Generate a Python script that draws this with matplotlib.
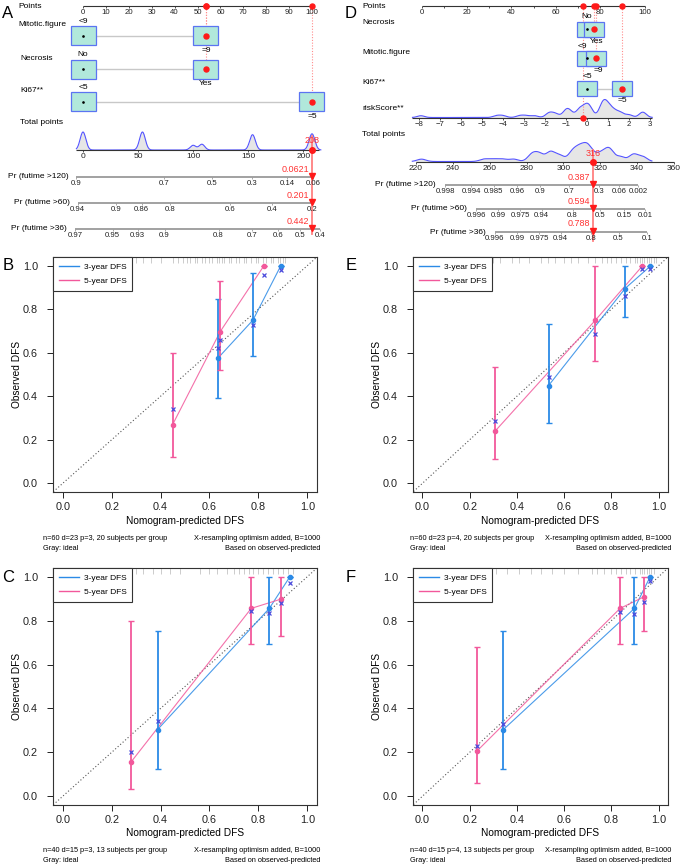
import numpy as np
import matplotlib
matplotlib.use('Agg')
import matplotlib.pyplot as plt
from matplotlib.patches import Rectangle
from matplotlib.lines import Line2D

plt.rcParams['font.family'] = ['Liberation Sans', 'DejaVu Sans']

# ---------------- data: nomogram A ----------------
a_items = ['Mitotic.figure', 'Necrosis', 'Ki67**']
a_levels = [['<9', '=9'], ['No', 'Yes'], ['<5', '=5']]
a_level_points = [[0, 53.7], [0, 53.7], [0, 100]]
a_selected = [1, 1, 1]
a_total_ticks = [0, 50, 100, 150, 200]
a_total_max = 208
a_total_pred = 208
a_dens_totals = [0, 54, 100, 108, 154, 208]
a_dens_weights = [10, 10, 2.6, 3.2, 8.5, 9]
a_times = ['120', '60', '36']
a_prob_ticks = [[0.9, 0.7, 0.5, 0.3, 0.14, 0.06],
                [0.94, 0.9, 0.86, 0.8, 0.6, 0.4, 0.2],
                [0.97, 0.95, 0.93, 0.9, 0.8, 0.7, 0.6, 0.5, 0.4]]
a_prob_pred = [0.0621, 0.201, 0.442]
a_slope = 0.01529  # cloglog change per total point

# ---------------- data: nomogram D ----------------
d_items = ['Necrosis', 'Mitotic.figure', 'Ki67**']
d_levels = [['No', 'Yes'], ['<9', '=9'], ['<5', '=5']]
d_level_points = [[73.8, 77.1], [74.1, 77.9], [74.1, 89.5]]
d_selected = [1, 1, 1]
d_risk_ticks = list(range(-8, 4))
d_risk_pred = -0.18
d_risk_pts0 = 74.0      # points at riskScore = 0
d_risk_pts_unit = 9.43  # points per riskScore unit
d_risk_samples = [-7.9, -4.3, -4.0, -3.2, -2.9, -2.5, -1.8, -1.5, -1.0, -0.8, -0.35,
                  -0.05, 0.15, 0.7, 0.85, 1.05, 1.3, 1.6, 2.0, 2.65]
d_risk_weights = [1, 1, 1, 1, 1, 1, 2.5, 2, 3.5, 2.5, 4.5, 5, 4, 4.5, 5, 4, 3, 2.5, 1.5, 3]
d_total_ticks = list(range(220, 361, 20))
d_total_pred = 316
d_total_samples = [223, 257, 262, 267, 273, 283, 287, 293, 298, 305, 309, 313,
                   317, 321, 325, 331, 338, 343]
d_total_weights = [1, 1, 1, 1, 1, 3, 3, 4, 2.5, 4, 5, 6, 2, 3, 5, 2, 3, 2]
d_times = ['120', '60', '36']
d_prob_ticks = [[0.998, 0.994, 0.985, 0.96, 0.9, 0.7, 0.3, 0.06, 0.002],
                [0.996, 0.99, 0.975, 0.94, 0.8, 0.5, 0.15, 0.01],
                [0.996, 0.99, 0.975, 0.94, 0.8, 0.5, 0.1]]
d_prob_pred = [0.387, 0.594, 0.788]
d_slope = 0.0768

# ---------------- data: calibration curves ----------------
# predicted, observed, lower, upper, bias-corrected
b_blue = [[0.637, 0.778, 0.892], [0.578, 0.750, 1.0], [0.393, 0.586, 1.0], [0.849, 0.967, 1.0], [0.624, 0.726, 0.982]]
b_pink = [[0.449, 0.644, 0.823], [0.269, 0.697, 1.0], [0.122, 0.522, 1.0], [0.598, 0.932, 1.0], [0.342, 0.659, 0.959]]
e_blue = [[0.534, 0.858, 0.964], [0.449, 0.895, 0.997], [0.277, 0.766, 0.997], [0.731, 1.0, 0.997], [0.487, 0.860, 0.986]]
e_pink = [[0.308, 0.732, 0.930], [0.240, 0.749, 0.997], [0.110, 0.560, 0.997], [0.533, 1.0, 0.997], [0.285, 0.685, 0.985]]
c_blue = [[0.388, 0.845, 0.929], [0.304, 0.856, 1.0], [0.125, 0.692, 1.0], [0.754, 1.0, 1.0], [0.342, 0.833, 0.970]]
c_pink = [[0.280, 0.771, 0.892], [0.157, 0.856, 0.898], [0.032, 0.692, 0.731], [0.798, 1.0, 1.0], [0.202, 0.843, 0.881]]
f_blue = [[0.343, 0.898, 0.963], [0.304, 0.856, 0.997], [0.125, 0.692, 0.997], [0.755, 1.0, 0.997], [0.327, 0.830, 0.980]]
f_pink = [[0.230, 0.837, 0.939], [0.205, 0.856, 0.909], [0.062, 0.692, 0.752], [0.679, 1.0, 1.0], [0.229, 0.840, 0.886]]

b_rug = [0.18, 0.20, 0.23, 0.30, 0.33, 0.36, 0.40, 0.45, 0.47, 0.49, 0.51, 0.52, 0.54, 0.55,
         0.57, 0.58, 0.60, 0.61, 0.63, 0.64, 0.65, 0.66, 0.68, 0.69, 0.71, 0.72, 0.74, 0.75,
         0.77, 0.79, 0.80, 0.82, 0.83, 0.85, 0.86, 0.88, 0.89, 0.90, 0.91]
e_rug = [0.04, 0.08, 0.12, 0.16, 0.20, 0.22, 0.27, 0.30, 0.33, 0.38, 0.41, 0.45, 0.50, 0.53,
         0.56, 0.60, 0.63, 0.66, 0.70, 0.73, 0.76, 0.78, 0.80, 0.82, 0.84, 0.86, 0.88, 0.90,
         0.91, 0.92, 0.93, 0.94, 0.95, 0.96, 0.97, 0.98, 0.99]
c_rug = [0.01, 0.05, 0.08, 0.12, 0.17, 0.21, 0.26, 0.30, 0.33, 0.37, 0.40, 0.44, 0.48, 0.56,
         0.60, 0.63, 0.67, 0.70, 0.72, 0.74, 0.76, 0.78, 0.80, 0.82, 0.84, 0.86, 0.88, 0.90,
         0.92, 0.94]
f_rug = [0.0, 0.03, 0.06, 0.10, 0.14, 0.18, 0.22, 0.26, 0.31, 0.36, 0.41, 0.46, 0.50, 0.55,
         0.60, 0.66, 0.72, 0.74, 0.77, 0.80, 0.82, 0.84, 0.86, 0.88, 0.90, 0.92, 0.93, 0.94,
         0.95, 0.96, 0.97, 0.98]

footers = {
    'B': ('n=60 d=23 p=3, 20 subjects per group', 'X-resampling optimism added, B=1000'),
    'E': ('n=60 d=23 p=4, 20 subjects per group', 'X-resampling optimism added, B=1000'),
    'C': ('n=40 d=15 p=3, 13 subjects per group', 'X-resampling optimism added, B=1000'),
    'F': ('n=40 d=15 p=4, 13 subjects per group', 'X-resampling optimism added, B=1000'),
}

# ---------------- styling ----------------
W, H = 681, 866
BLUE = '#2b8ae6'
PINK = '#f2589b'
XCOL = '#4b4bdc'
RED = '#ff1a1a'
BOX_FC = '#b1e8db'
BOX_EC = '#5b74f2'
DENS_EC = '#5454ff'

fig = plt.figure(figsize=(W / 100, H / 100), dpi=100)


def px_axes(l, t, r, b):
    return fig.add_axes([l / W, 1 - b / H, (r - l) / W, (b - t) / H])


def cloglog(p):
    return np.log(-np.log(np.asarray(p, dtype=float)))


def kde(samples, weights, grid, bw):
    s = np.asarray(samples)[:, None]
    w = np.asarray(weights)[:, None]
    return (w * np.exp(-0.5 * ((grid[None, :] - s) / bw) ** 2)).sum(axis=0)


def scale_row(ax, y, xs, labels, lo=None, hi=None, color='#333333', lw=0.8, fs=5.6):
    lo = min(xs) if lo is None else lo
    hi = max(xs) if hi is None else hi
    ax.plot([lo, hi], [y, y], color=color, lw=lw, solid_capstyle='butt', zorder=3)
    ax.vlines(xs, y, y + 2.2, color=color, lw=0.6, zorder=3)
    for x, l in zip(xs, labels):
        ax.text(x, y + 3, l, ha='center', va='top', fontsize=fs, color='#222222', zorder=4)


def item_row(ax, y, pts, labels, sel, bw, bh, dx=(0, 0)):
    ax.plot([min(pts), max(pts)], [y, y], color='#c8c8c8', lw=1.0, zorder=1)
    for i, (p, l) in enumerate(zip(pts, labels)):
        ax.add_patch(Rectangle((p - bw / 2, y - bh / 2), bw, bh, fc=BOX_FC, ec=BOX_EC,
                               lw=0.9, zorder=2))
        if i == sel:
            ax.plot(p, y, 'o', color=RED, ms=3.6, zorder=5)
        else:
            ax.plot(p, y, 'o', color='black', ms=0.9, zorder=5)
        if i == 0:
            ax.text(p + dx[0], y - bh / 2 - 1, l, ha='center', va='bottom', fontsize=6, zorder=4)
        else:
            ax.text(p + dx[1], y + bh / 2 + 1.5, l, ha='center', va='top', fontsize=6, zorder=4)


def density(ax, base, grid_x, dens, height):
    yy = base - dens / dens.max() * height
    ax.fill_between(grid_x, base, yy, color='#e6e6e6', lw=0, zorder=1)
    ax.plot(grid_x, yy, color=DENS_EC, lw=0.8, zorder=2)


def prob_row(ax, y, name, xs, labels, xpred, pred_txt, gap):
    ax.text(min(xs) - gap, y, name, ha='right', va='center', fontsize=6)
    scale_row(ax, y, xs, labels, color='#9a9a9a', lw=1.3)
    ax.plot(xpred, y - 1, 'v', color=RED, ms=4.5, zorder=6)
    ax.text(xpred - gap * 0.3, y - 3.5, pred_txt, ha='right', va='bottom', fontsize=6.5,
            color='#ff3333', zorder=6)


# ================= Nomogram A =================
axA = px_axes(0, 0, 340, 245)
kA, x0A = 2.29, 83
axA.set_xlim((0 - x0A) / kA, (340 - x0A) / kA)
axA.set_ylim(245, 0)
axA.axis('off')


def tA(total):
    return np.asarray(total, dtype=float) * 100 / a_total_max


def lblA(px):
    return (px - x0A) / kA


yA_pts, yA_items, yA_tot, yA_prob = 6, [35.5, 69, 101.5], 150, [177, 203, 229]
axA.text(lblA(18), yA_pts, 'Points', ha='left', va='center', fontsize=6)
pts_ticks = list(range(0, 101, 10))
scale_row(axA, yA_pts, pts_ticks, [str(t) for t in pts_ticks])
for name, y, lv, pts, sel in zip(a_items, yA_items, a_levels, a_level_points, a_selected):
    axA.text(lblA(18 if name == 'Mitotic.figure' else 20), y - 11, name, ha='left',
             va='center', fontsize=6)
    axA.plot([pts[sel], pts[sel]], [yA_pts, y], ls=(0, (1, 1.5)), color='#ff8c8c', lw=0.8, zorder=1)
    axA.plot(pts[sel], yA_pts, 'o', color=RED, ms=3.6, zorder=6)
    item_row(axA, y, pts, lv, sel, 25 / kA, 19)

axA.text(lblA(20), 122, 'Total points', ha='left', va='center', fontsize=6)
gA = np.linspace(-6, 216, 600)
density(axA, yA_tot, tA(gA), kde(a_dens_totals, a_dens_weights, gA, 2.6), 18)
scale_row(axA, yA_tot, tA(a_total_ticks), [str(t) for t in a_total_ticks],
          lo=tA(-6), hi=tA(214), fs=6)
xpA = float(tA(a_total_pred))
axA.plot([xpA, xpA], [136, 234], color='#ff8080', lw=1.3, zorder=2)
axA.plot(xpA, yA_tot, 'o', color=RED, ms=4, zorder=7)
axA.text(xpA, yA_tot - 5, str(a_total_pred), ha='center', va='bottom', fontsize=6.5,
         color='#ff3333', zorder=7)
for t, y, ticks, pred in zip(a_times, yA_prob, a_prob_ticks, a_prob_pred):
    tot = a_total_pred + (cloglog(ticks) - cloglog(pred)) / a_slope
    prob_row(axA, y, 'Pr (futime >%s)' % t, tA(tot), [str(v) for v in ticks],
             xpA, str(pred), 8 / kA)

# ================= Nomogram D =================
axD = px_axes(340, 0, 681, 245)
kD, x0D = 2.23, 422
axD.set_xlim((340 - x0D) / kD, (681 - x0D) / kD)
axD.set_ylim(245, 0)
axD.axis('off')


def lblD(px):
    return (px - x0D) / kD


def tD(total):
    return (np.asarray(total, dtype=float) - 220) * 0.8265 - 2.7


def rD(rs):
    return d_risk_pts0 + d_risk_pts_unit * np.asarray(rs, dtype=float)


yD_pts, yD_items, yD_risk, yD_tot, yD_prob = 6, [29, 58, 88.5], 117.5, 161.5, [185, 209, 232]
d_label_dx = [(0.5 / kD, 3 / kD), (-5 / kD, 3 / kD), (0, 1 / kD)]
axD.text(lblD(362), yD_pts, 'Points', ha='left', va='center', fontsize=6)
d_pts_ticks = list(range(0, 101, 10))
scale_row(axD, yD_pts, d_pts_ticks, [str(t) if t % 20 == 0 else '' for t in d_pts_ticks])
for name, y, lv, pts, sel, dx in zip(d_items, yD_items, d_levels, d_level_points, d_selected,
                                     d_label_dx):
    axD.text(lblD(362), y - 6, name, ha='left', va='center', fontsize=6)
    axD.plot([pts[sel], pts[sel]], [yD_pts, y], ls=(0, (1, 1.5)), color='#ff8c8c', lw=0.8, zorder=1)
    axD.plot(pts[sel], yD_pts, 'o', color=RED, ms=3.6, zorder=6)
    item_row(axD, y, pts, lv, sel, 20 / kD, 15, dx)

axD.text(lblD(362), 108, 'riskScore**', ha='left', va='center', fontsize=6)
gR = np.linspace(-8.3, 3.1, 600)
density(axD, yD_risk, rD(gR), kde(d_risk_samples, d_risk_weights, gR, 0.17), 18)
scale_row(axD, yD_risk, rD(d_risk_ticks), [str(t).replace('-', '\u2212') for t in d_risk_ticks],
          lo=float(rD(-8.3)), hi=float(rD(3.1)))
xr = float(rD(d_risk_pred))
axD.plot([xr, xr], [yD_pts, yD_risk], ls=(0, (1, 1.5)), color='#ff8c8c', lw=0.8, zorder=1)
axD.plot(xr, yD_pts, 'o', color=RED, ms=3.6, zorder=6)
axD.plot(xr, yD_risk, 'o', color=RED, ms=3.6, zorder=6)

axD.text(lblD(362), 135, 'Total points', ha='left', va='center', fontsize=6)
gT = np.linspace(218, 348, 600)
density(axD, yD_tot, tD(gT), kde(d_total_samples, d_total_weights, gT, 2.4), 19)
scale_row(axD, yD_tot, tD(d_total_ticks), [str(t) for t in d_total_ticks], fs=6)
xpD = float(tD(d_total_pred))
axD.plot([xpD, xpD], [150, 241], color='#ff8080', lw=1.3, zorder=2)
axD.plot(xpD, yD_tot, 'o', color=RED, ms=4, zorder=7)
axD.text(xpD, yD_tot - 3.5, str(d_total_pred), ha='center', va='bottom', fontsize=6.5,
         color='#ff3333', zorder=7)
for t, y, ticks, pred in zip(d_times, yD_prob, d_prob_ticks, d_prob_pred):
    tot = d_total_pred + (cloglog(ticks) - cloglog(pred)) / d_slope
    prob_row(axD, y, 'Pr (futime >%s)' % t, tD(tot), [str(v) for v in ticks],
             xpD, str(pred), 9 / kD)


# ================= calibration panels =================
def cal_panel(box, blue, pink, rug, letter, foot_left, foot_right):
    l, t, r, b = box
    ax = px_axes(l, t, r, b)
    ax.set_xlim(-0.04, 1.04)
    ax.set_ylim(-0.04, 1.04)
    ax.plot([-0.1, 1.1], [-0.1, 1.1], ls=(0, (1, 2)), color='#555555', lw=0.8, zorder=1)
    ax.vlines(rug, 1.013, 1.04, color='#c4c4c4', lw=0.6, zorder=1)
    for s, c in ((blue, BLUE), (pink, PINK)):
        x, obs, lo, hi, corr = [np.asarray(v) for v in s]
        ax.plot(x, obs, color=c, lw=0.8, alpha=0.85, zorder=2)
        ax.errorbar(x, obs, yerr=[obs - lo, hi - obs], fmt='o', color=c, ms=3,
                    capsize=2.2, elinewidth=1.3, capthick=1, zorder=3)
        ax.plot(x, corr, 'x', color=XCOL, ms=3.5, mew=0.9, zorder=4)
    ticks = [0, 0.2, 0.4, 0.6, 0.8, 1.0]
    ax.set_xticks(ticks)
    ax.set_yticks(ticks)
    ax.set_xticklabels(['%.1f' % v for v in ticks])
    ax.set_yticklabels(['%.1f' % v for v in ticks])
    ax.tick_params(length=4.3, width=0.7, labelsize=7.8, colors='#222222')
    ax.tick_params(axis='x', pad=3)
    ax.tick_params(axis='y', pad=6.5)
    for sp in ax.spines.values():
        sp.set_linewidth(0.8)
        sp.set_color('#333333')
    ax.set_xlabel('Nomogram-predicted DFS', fontsize=7.3)
    ax.set_ylabel('Observed DFS', fontsize=7.3)
    ax.xaxis.set_label_coords(0.5, -28.5 / (b - t))
    ax.xaxis.label.set_va('center')
    ax.yaxis.set_label_coords(-36 / (r - l), 0.5)
    ax.yaxis.label.set_va('center')
    handles = [Line2D([], [], color=BLUE, lw=1), Line2D([], [], color=PINK, lw=1)]
    leg = ax.legend(handles, ['3-year DFS', '5-year DFS'], loc='upper left',
                    borderaxespad=0, fancybox=False, edgecolor='#333333', framealpha=1,
                    fontsize=6, handlelength=2.4, handletextpad=0.6, borderpad=0.7,
                    labelspacing=0.75)
    leg.get_frame().set_linewidth(0.8)
    lx = 8 if l < 300 else 351
    fig.text(lx / W, 1 - (t + 9) / H, letter, fontsize=12, ha='center', va='center')
    fl = l - 10 if l < 300 else l - 3
    fig.text(fl / W, 1 - (b + 46) / H, foot_left, fontsize=5.3, ha='left', va='center')
    fig.text(fl / W, 1 - (b + 56) / H, 'Gray: ideal', fontsize=5.3, ha='left', va='center')
    fig.text((r + 3) / W, 1 - (b + 46) / H, foot_right, fontsize=5.3, ha='right', va='center')
    fig.text((r + 3) / W, 1 - (b + 56) / H, 'Based on observed-predicted', fontsize=5.3,
             ha='right', va='center')


cal_panel((53, 257, 317, 492), b_blue, b_pink, b_rug, 'B', *footers['B'])
cal_panel((413, 257, 668, 492), e_blue, e_pink, e_rug, 'E', *footers['E'])
cal_panel((53, 568, 317, 805), c_blue, c_pink, c_rug, 'C', *footers['C'])
cal_panel((413, 568, 668, 805), f_blue, f_pink, f_rug, 'F', *footers['F'])

fig.text(8 / W, 1 - 13 / H, 'A', fontsize=12, ha='center', va='center')
fig.text(351 / W, 1 - 13 / H, 'D', fontsize=12, ha='center', va='center')

fig.savefig('out.png', dpi=100)
